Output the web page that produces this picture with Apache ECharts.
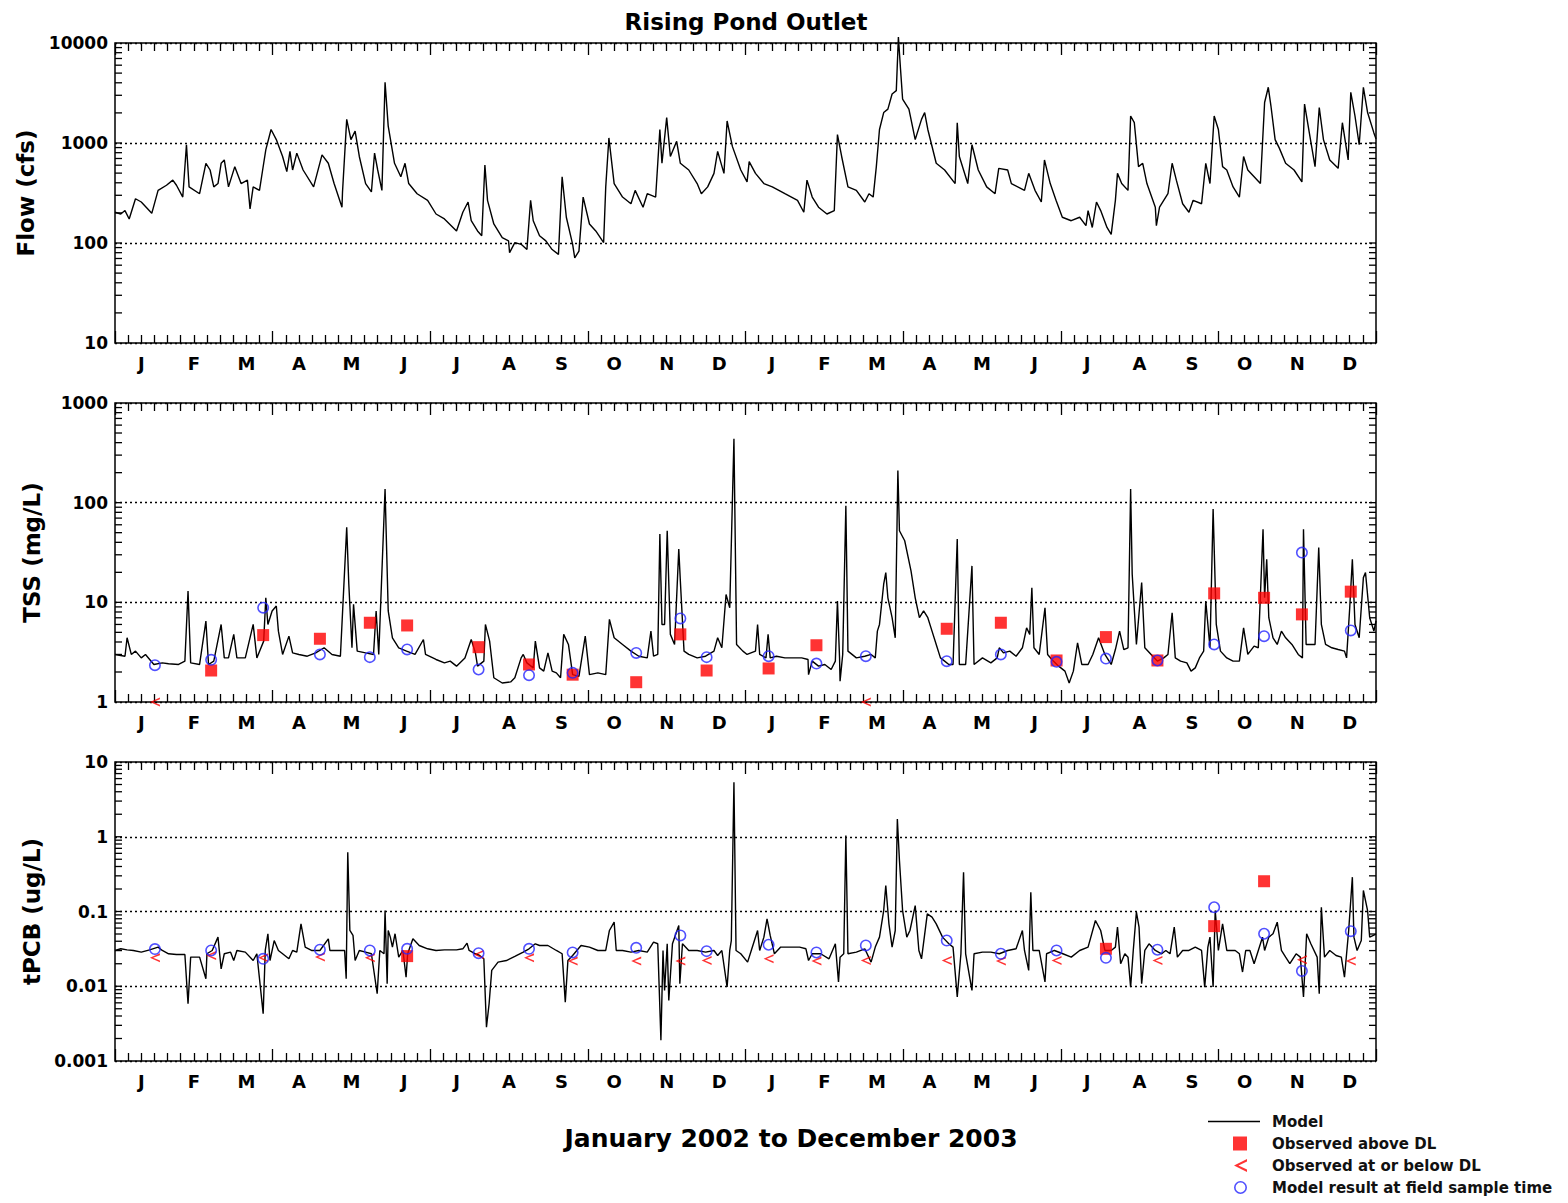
<!DOCTYPE html>
<html><head><meta charset="utf-8">
<script src="https://cdn.jsdelivr.net/npm/echarts@6/dist/echarts.min.js"></script>
<style>html,body{margin:0;padding:0;background:#fff}#c{width:1568px;height:1203px}</style>
</head><body><div id="c"></div>
<script>
// time in months since 1 Jan 2002
const monthLetters = ['J','F','M','A','M','J','J','A','S','O','N','D'];

const flowModel = [[0,203],[0.11,195],[0.19,211],[0.27,174],[0.39,277],[0.5,257],[0.7,198],[0.82,336],[0.98,378],[1.1,425],[1.17,378],[1.29,288],[1.36,961],[1.41,364],[1.61,311],[1.73,627],[1.81,537],[1.88,364],[1.96,393],[2.02,627],[2.08,677],[2.16,364],[2.28,580],[2.4,393],[2.52,425],[2.57,219],[2.63,364],[2.75,336],[2.81,537],[2.87,855],[2.97,1365],[3.07,1081],[3.19,733],[3.27,517],[3.33,824],[3.38,537],[3.46,792],[3.58,537],[3.78,364],[3.94,762],[4.06,627],[4.17,393],[4.32,228],[4.33,324],[4.41,1722],[4.49,1081],[4.57,1313],[4.65,733],[4.77,393],[4.88,324],[4.94,792],[5.0,537],[5.08,336],[5.14,4050],[5.2,1475],[5.32,627],[5.44,459],[5.52,627],[5.59,393],[5.75,311],[5.95,267],[6.11,195],[6.27,174],[6.5,132],[6.62,203],[6.72,257],[6.78,167],[6.9,132],[6.98,118],[7.04,603],[7.09,267],[7.21,155],[7.37,113],[7.49,105],[7.51,80],[7.61,101],[7.73,97],[7.84,86],[7.91,267],[7.96,167],[8.08,118],[8.2,105],[8.32,86],[8.44,77],[8.51,459],[8.59,181],[8.71,97],[8.75,71],[8.83,83],[8.91,288],[9.03,155],[9.15,132],[9.3,101],[9.34,364],[9.4,1124],[9.5,393],[9.66,288],[9.82,247],[9.9,336],[10.05,228],[10.13,311],[10.29,288],[10.37,1365],[10.41,627],[10.5,1791],[10.57,733],[10.69,1040],[10.76,627],[10.92,537],[11.08,393],[11.16,311],[11.28,364],[11.4,497],[11.47,824],[11.59,497],[11.65,1660],[11.75,925],[11.91,537],[12.03,408],[12.07,652],[12.19,497],[12.35,393],[12.51,364],[12.75,311],[12.99,267],[13.11,203],[13.17,425],[13.27,288],[13.39,228],[13.55,195],[13.69,211],[13.75,1213],[13.83,733],[13.95,364],[14.11,336],[14.27,257],[14.35,311],[14.43,288],[14.49,580],[14.55,1365],[14.63,2015],[14.71,2180],[14.79,3090],[14.87,3340],[14.91,11500],[14.95,5530],[14.99,2750],[15.11,2180],[15.23,1081],[15.35,1722],[15.41,2015],[15.47,1365],[15.63,627],[15.79,537],[15.99,393],[16.03,1596],[16.07,733],[16.23,393],[16.31,961],[16.43,537],[16.59,364],[16.75,311],[16.82,558],[16.99,537],[17.06,393],[17.31,336],[17.39,497],[17.51,336],[17.63,257],[17.69,677],[17.8,393],[17.91,267],[18.03,181],[18.2,167],[18.36,181],[18.48,149],[18.52,211],[18.6,143],[18.68,257],[18.76,211],[18.88,143],[18.96,122],[19.04,267],[19.08,497],[19.16,393],[19.28,336],[19.33,1862],[19.4,1596],[19.48,580],[19.56,627],[19.64,393],[19.8,228],[19.82,149],[19.88,228],[20.04,311],[20.12,627],[20.2,425],[20.32,247],[20.44,203],[20.52,267],[20.68,247],[20.76,627],[20.84,393],[20.92,1862],[21.0,1365],[21.08,580],[21.16,537],[21.28,364],[21.4,288],[21.48,733],[21.56,537],[21.8,393],[21.88,2540],[21.95,3607],[22.0,2356],[22.08,1081],[22.16,889],[22.28,627],[22.44,537],[22.59,408],[22.64,2447],[22.72,1365],[22.84,580],[22.92,2265],[23.0,1081],[23.12,677],[23.28,558],[23.36,1596],[23.47,677],[23.52,3213],[23.6,1862],[23.68,961],[23.76,3607],[23.84,2015],[23.96,1262],[24,1100]];

const tssModel = [[0,3.0],[0.19,2.88],[0.23,4.41],[0.31,3.0],[0.39,3.24],[0.5,2.77],[0.58,3.0],[0.74,2.38],[0.9,2.47],[1.02,2.42],[1.21,2.38],[1.33,2.57],[1.39,13.0],[1.44,2.47],[1.61,2.38],[1.73,6.49],[1.78,2.38],[1.88,2.57],[2.02,6.0],[2.08,2.77],[2.16,2.77],[2.26,4.77],[2.32,2.77],[2.48,2.77],[2.63,6.0],[2.7,2.77],[2.83,4.08],[2.87,11.1],[2.91,6.0],[2.99,8.19],[3.07,9.19],[3.11,5.14],[3.19,3.0],[3.31,4.58],[3.38,3.11],[3.5,3.0],[3.66,2.88],[3.82,3.11],[3.98,3.5],[4.13,3.0],[4.29,2.88],[4.41,56.5],[4.45,15.2],[4.51,3.5],[4.54,9.55],[4.61,3.24],[4.77,3.11],[4.92,3.0],[4.97,8.19],[5.02,3.0],[5.14,137],[5.2,8.19],[5.28,4.41],[5.4,3.5],[5.55,3.24],[5.71,3.0],[5.87,4.24],[5.91,3.0],[6.11,2.67],[6.27,2.47],[6.38,2.57],[6.5,2.29],[6.66,2.77],[6.78,4.24],[6.86,3.11],[6.9,2.29],[7.02,2.57],[7.05,6.0],[7.13,4.08],[7.21,1.75],[7.37,1.55],[7.53,1.59],[7.61,1.75],[7.73,2.77],[7.77,3.0],[7.84,2.47],[7.96,2.2],[8.0,4.08],[8.08,2.2],[8.16,2.04],[8.24,3.11],[8.32,2.04],[8.4,1.96],[8.48,1.75],[8.54,4.77],[8.63,3.78],[8.71,1.88],[8.83,1.81],[8.95,4.58],[9.03,1.88],[9.19,1.96],[9.34,1.88],[9.41,6.74],[9.5,4.41],[9.66,3.78],[9.82,3.24],[9.97,2.88],[10.13,2.77],[10.2,5.14],[10.25,2.88],[10.33,3.0],[10.37,48.4],[10.41,6.0],[10.46,6.0],[10.51,52.3],[10.57,4.77],[10.65,3.78],[10.73,34.2],[10.76,16.4],[10.83,3.24],[10.92,3.0],[11.08,2.77],[11.24,2.88],[11.4,3.24],[11.47,4.41],[11.55,3.5],[11.63,12.0],[11.7,8.83],[11.78,437],[11.83,3.78],[11.95,3.24],[12.03,3.0],[12.19,3.24],[12.23,6.0],[12.27,3.0],[12.39,2.77],[12.43,4.77],[12.47,2.77],[12.59,2.88],[12.75,2.77],[12.91,2.77],[13.07,2.77],[13.19,2.67],[13.2,1.88],[13.27,2.57],[13.39,2.29],[13.51,2.38],[13.63,2.12],[13.71,2.57],[13.75,10.3],[13.79,2.77],[13.8,1.62],[13.85,3.0],[13.91,93],[13.95,3.24],[14.11,2.77],[14.27,2.88],[14.39,3.0],[14.47,2.77],[14.51,5.14],[14.55,6.0],[14.63,15.2],[14.67,19.9],[14.71,11.1],[14.79,7.01],[14.85,4.41],[14.9,210],[14.93,52.3],[15.03,41.5],[15.15,20.7],[15.23,11.1],[15.31,7.01],[15.39,8.19],[15.47,7.01],[15.55,5.14],[15.63,3.78],[15.71,2.77],[15.79,2.57],[15.87,2.38],[15.95,2.38],[16.03,43.1],[16.07,2.38],[16.19,2.38],[16.31,23.2],[16.35,2.38],[16.51,2.77],[16.67,2.47],[16.79,2.77],[16.83,3.5],[16.91,3.11],[17.03,3.24],[17.15,2.88],[17.27,3.5],[17.35,5.55],[17.41,4.77],[17.45,14.0],[17.49,3.5],[17.59,3.0],[17.7,8.83],[17.75,3.0],[17.83,2.67],[17.96,2.29],[18.08,2.04],[18.16,1.55],[18.24,2.04],[18.32,3.93],[18.4,2.38],[18.52,2.38],[18.61,3.0],[18.72,4.41],[18.84,3.0],[18.96,2.38],[19.04,3.36],[19.12,5.14],[19.2,3.36],[19.28,3.5],[19.33,137],[19.36,19.1],[19.44,3.78],[19.54,15.8],[19.6,3.5],[19.72,3.0],[19.84,2.57],[19.96,2.77],[20.04,3.0],[20.12,7.87],[20.18,2.77],[20.28,2.57],[20.4,2.47],[20.48,2.04],[20.56,2.2],[20.64,2.77],[20.72,3.24],[20.76,10.3],[20.84,3.5],[20.9,86.5],[20.96,6.0],[21.04,3.24],[21.16,2.77],[21.28,2.57],[21.4,2.57],[21.48,5.55],[21.56,3.0],[21.68,3.63],[21.76,3.5],[21.85,54.2],[21.88,11.1],[21.92,27.1],[21.96,7.01],[22.04,4.41],[22.12,3.78],[22.2,5.14],[22.28,4.41],[22.4,3.78],[22.52,3.0],[22.6,2.77],[22.62,54.2],[22.67,3.78],[22.76,3.78],[22.84,3.78],[22.91,35.5],[22.96,6.0],[23.04,3.78],[23.16,3.5],[23.28,3.36],[23.4,3.24],[23.44,2.77],[23.5,8.83],[23.55,27.1],[23.6,6.0],[23.68,4.41],[23.76,17.7],[23.8,19.9],[23.88,7.01],[23.96,5.14],[24,6.5]];

const tssObsAbove = [[1.83,2.07],[2.82,4.69],[3.9,4.31],[4.85,6.24],[5.56,5.86],[6.92,3.55],[7.88,2.38],[8.71,1.88],[9.92,1.58],[10.76,4.77],[11.26,2.07],[12.44,2.17],[13.35,3.71],[15.83,5.43],[16.86,6.24],[17.92,2.61],[18.86,4.48],[19.84,2.61],[20.92,12.3],[21.87,11.1],[22.59,7.57],[23.52,12.8]];
const tssObsBelow = [[0.76,1.0],[14.29,1.0]];
const tssModelAtSample = [[0.76,2.34],[1.83,2.65],[2.82,8.83],[3.9,3.0],[4.85,2.82],[5.56,3.37],[6.92,2.12],[7.88,1.86],[8.71,1.96],[9.92,3.11],[10.76,6.9],[11.26,2.82],[12.44,2.88],[13.35,2.43],[14.29,2.88],[15.83,2.57],[16.86,3.0],[17.92,2.53],[18.86,2.73],[19.84,2.61],[20.92,3.78],[21.87,4.58],[22.59,31.6],[23.52,5.22]];

const pcbModel = [[0,0.0301],[0.11,0.0317],[0.23,0.0307],[0.35,0.0301],[0.5,0.0286],[0.66,0.0307],[0.82,0.0334],[0.9,0.0301],[1.02,0.0272],[1.17,0.0266],[1.33,0.0266],[1.39,0.00583],[1.44,0.0245],[1.61,0.0245],[1.73,0.0126],[1.75,0.0272],[1.85,0.0301],[1.96,0.0454],[2.02,0.0171],[2.08,0.0272],[2.2,0.0286],[2.26,0.0221],[2.32,0.0301],[2.48,0.0286],[2.63,0.0221],[2.7,0.0272],[2.82,0.0043],[2.86,0.0301],[2.91,0.0504],[2.95,0.0221],[3.03,0.0409],[3.11,0.0301],[3.19,0.0272],[3.31,0.0233],[3.38,0.0301],[3.46,0.0286],[3.54,0.0684],[3.62,0.0334],[3.74,0.0301],[3.9,0.0301],[4.06,0.0431],[4.09,0.0301],[4.25,0.0301],[4.37,0.0301],[4.4,0.0126],[4.43,0.621],[4.47,0.0557],[4.53,0.0478],[4.57,0.0221],[4.65,0.0301],[4.77,0.0286],[4.88,0.0272],[4.99,0.00794],[5.04,0.0301],[5.12,0.0272],[5.14,0.103],[5.18,0.0108],[5.2,0.0557],[5.24,0.0454],[5.28,0.0334],[5.33,0.0504],[5.4,0.0245],[5.48,0.0301],[5.54,0.0132],[5.57,0.0272],[5.67,0.0431],[5.79,0.0351],[5.95,0.0317],[6.11,0.0301],[6.27,0.0307],[6.5,0.0307],[6.62,0.0317],[6.7,0.0378],[6.74,0.0301],[6.86,0.0272],[6.94,0.0258],[7.02,0.0233],[7.07,0.00284],[7.12,0.00583],[7.17,0.0163],[7.29,0.021],[7.45,0.0221],[7.61,0.0251],[7.77,0.0286],[7.88,0.0317],[8.0,0.037],[8.08,0.0351],[8.24,0.0351],[8.4,0.0301],[8.51,0.0272],[8.57,0.00613],[8.62,0.0221],[8.71,0.0258],[8.87,0.0351],[9.03,0.0334],[9.19,0.0301],[9.34,0.0301],[9.41,0.0557],[9.5,0.072],[9.54,0.0301],[9.66,0.0301],[9.82,0.0286],[9.97,0.0301],[10.13,0.0286],[10.25,0.0389],[10.33,0.037],[10.39,0.00189],[10.43,0.0301],[10.46,0.00879],[10.51,0.037],[10.54,0.00647],[10.61,0.037],[10.73,0.065],[10.75,0.0108],[10.8,0.037],[10.92,0.0301],[11.08,0.0301],[11.24,0.0286],[11.4,0.0301],[11.47,0.0258],[11.55,0.0301],[11.65,0.00975],[11.7,0.0301],[11.73,0.0409],[11.78,5.35],[11.82,0.0301],[11.91,0.0272],[12.04,0.021],[12.11,0.0301],[12.23,0.0557],[12.27,0.0301],[12.35,0.0454],[12.41,0.0798],[12.47,0.0478],[12.55,0.0272],[12.67,0.0334],[12.83,0.0334],[13.03,0.0334],[13.15,0.0317],[13.2,0.0221],[13.27,0.0272],[13.43,0.0272],[13.59,0.0233],[13.71,0.037],[13.77,0.0114],[13.8,0.0245],[13.87,0.0272],[13.91,1.04],[13.95,0.0272],[14.11,0.0286],[14.27,0.0317],[14.39,0.021],[14.47,0.0334],[14.55,0.0454],[14.63,0.103],[14.67,0.223],[14.73,0.0684],[14.79,0.0334],[14.85,0.0557],[14.89,1.73],[14.93,0.48],[14.99,0.103],[15.07,0.0454],[15.13,0.0557],[15.23,0.12],[15.3,0.0301],[15.35,0.0233],[15.46,0.093],[15.55,0.084],[15.63,0.0684],[15.75,0.0454],[15.87,0.037],[15.95,0.0334],[16.03,0.0072],[16.1,0.0272],[16.15,0.335],[16.19,0.0272],[16.31,0.00879],[16.35,0.0272],[16.51,0.0286],[16.67,0.0286],[16.83,0.0272],[16.99,0.0301],[17.15,0.0317],[17.27,0.0557],[17.31,0.0301],[17.39,0.0163],[17.43,0.181],[17.47,0.0301],[17.59,0.0301],[17.7,0.0114],[17.73,0.0272],[17.88,0.0301],[18.04,0.0272],[18.2,0.0245],[18.36,0.0301],[18.52,0.0334],[18.66,0.0758],[18.76,0.0557],[18.84,0.0301],[18.96,0.0301],[19.04,0.0334],[19.08,0.0618],[19.14,0.02],[19.22,0.0272],[19.28,0.0245],[19.33,0.00975],[19.38,0.0301],[19.44,0.098],[19.49,0.0618],[19.54,0.0108],[19.6,0.0301],[19.68,0.037],[19.8,0.0301],[19.92,0.0272],[20.0,0.0301],[20.08,0.0272],[20.16,0.0618],[20.22,0.0245],[20.32,0.0301],[20.44,0.0301],[20.56,0.0334],[20.68,0.0301],[20.74,0.00975],[20.8,0.0334],[20.84,0.0454],[20.9,0.00975],[20.94,0.103],[21.0,0.0301],[21.08,0.0684],[21.16,0.0301],[21.32,0.0301],[21.4,0.0272],[21.46,0.0155],[21.52,0.0301],[21.6,0.0301],[21.68,0.02],[21.76,0.0301],[21.84,0.0454],[21.88,0.0301],[21.96,0.0454],[22.04,0.0504],[22.12,0.072],[22.2,0.0301],[22.28,0.0245],[22.36,0.02],[22.48,0.0272],[22.56,0.0245],[22.62,0.0072],[22.68,0.0504],[22.76,0.037],[22.88,0.0245],[22.92,0.00794],[22.96,0.114],[23.02,0.0245],[23.12,0.0301],[23.24,0.0258],[23.34,0.0245],[23.4,0.0132],[23.48,0.0557],[23.55,0.288],[23.58,0.0454],[23.64,0.0301],[23.72,0.0409],[23.76,0.191],[23.84,0.103],[23.88,0.0454],[24,0.05]];

const pcbObsAbove = [[5.56,0.0253],[18.86,0.0317],[20.92,0.0637],[21.87,0.254]];
const pcbObsBelow = [[0.76,0.024],[1.83,0.0257],[2.82,0.024],[3.9,0.0246],[4.85,0.024],[6.92,0.0266],[7.88,0.024],[8.71,0.0217],[9.92,0.0217],[10.76,0.0217],[11.26,0.0221],[12.44,0.0233],[13.35,0.0217],[14.29,0.0221],[15.83,0.0221],[16.86,0.0217],[17.92,0.0221],[19.84,0.0221],[22.59,0.0226],[23.52,0.0217]];
const pcbModelAtSample = [[0.76,0.0314],[1.83,0.0301],[2.82,0.0233],[3.9,0.0308],[4.85,0.0301],[5.56,0.0317],[6.92,0.0277],[7.88,0.0317],[8.71,0.0283],[9.92,0.0327],[10.76,0.0478],[11.26,0.0295],[12.44,0.0359],[13.35,0.0283],[14.29,0.0352],[15.83,0.0409],[16.86,0.0272],[17.92,0.0301],[18.86,0.024],[19.84,0.0308],[20.92,0.114],[21.87,0.0504],[22.59,0.016],[23.52,0.0546]];

const FONT = '"DejaVu Sans", Verdana, sans-serif';
const RED = '#ff0000', BLUE = '#2424ff';
const SYM_LT = 'path://M10,0 L0,5 L10,10 L10,8 L3.2,5 L10,2 Z';
const SYM_RING = 'path://M12,6 A6,6 0 1 0 0,6 A6,6 0 1 0 12,6 Z M10.4,6 A4.4,4.4 0 1 1 1.6,6 A4.4,4.4 0 1 1 10.4,6 Z';
const ICON_LINE = 'path://M0,0 L0,0 Z M0,6.2 L52,6.2 L52,7.8 L0,7.8 Z M52,14 L52,14 Z';
const ICON_SQ = 'path://M0,0 L0,0 Z M25,0 L39,0 L39,14 L25,14 Z M52,14 L52,14 Z';
const ICON_LT = 'path://M0,0 L0,0 Z M39,0.5 L26,7 L39,13.5 L39,11 L30.5,7 L39,3 Z M52,14 L52,14 Z';
const ICON_RING = 'path://M0,0 L0,0 Z M39,7 A6.5,6.5 0 1 0 26,7 A6.5,6.5 0 1 0 39,7 Z M37.4,7 A4.9,4.9 0 1 1 27.6,7 A4.9,4.9 0 1 1 37.4,7 Z M52,14 L52,14 Z';

const panels = [
  {model: flowModel, above: null, below: null, sample: null, yMin: 10, yMax: 10000, name: 'Flow (cfs)', top: 43, height: 300},
  {model: tssModel, above: tssObsAbove, below: tssObsBelow, sample: tssModelAtSample, yMin: 1, yMax: 1000, name: 'TSS (mg/L)', top: 403, height: 299},
  {model: pcbModel, above: pcbObsAbove, below: pcbObsBelow, sample: pcbModelAtSample, yMin: 0.001, yMax: 10, name: 'tPCB (ug/L)', top: 762, height: 299}
];

function logTicks(min, max) {
  const out = [];
  for (let e = Math.round(Math.log10(min)); e < Math.round(Math.log10(max)); e++) {
    for (let k = 1; k <= 9; k++) {
      const v = k * Math.pow(10, e);
      if (v > min) out.push([0, v]);
    }
  }
  return out;
}
function yFmt(v) {
  return v >= 1 ? String(Math.round(v)) : String(parseFloat(v.toPrecision(1)));
}
function monthFmt(v) {
  const k = Math.round(v * 2);
  return (k % 2 === 1) ? monthLetters[((k - 1) / 2) % 12] : '';
}

const grid = [], xAxis = [], yAxis = [], series = [];
const tickStyle = {color: '#000', width: 1.3};
panels.forEach((p, g) => {
  grid.push({left: 115, right: 192, top: p.top, height: p.height, show: true, borderColor: '#000', borderWidth: 1.5, backgroundColor: 'transparent', containLabel: false});
  ['bottom', 'top'].forEach(pos => xAxis.push({
    gridIndex: g, type: 'value', min: 0, max: 24, interval: 3, position: pos,
    axisLine: {show: false}, splitLine: {show: false}, axisLabel: {show: false},
    axisTick: {show: true, inside: true, length: 12, lineStyle: tickStyle},
    minorTick: {show: true, splitNumber: 12, length: 8, lineStyle: tickStyle}
  }));
  xAxis.push({
    gridIndex: g, type: 'value', min: 0, max: 24, interval: 0.5, position: 'bottom',
    axisLine: {show: false}, axisTick: {show: false}, splitLine: {show: false}, minorTick: {show: false},
    axisLabel: {margin: 11, fontFamily: FONT, fontWeight: 'bold', fontSize: 18, color: '#000', formatter: monthFmt}
  });
  yAxis.push({
    gridIndex: g, type: 'log', logBase: 10, min: p.yMin, max: p.yMax, position: 'left',
    axisLine: {show: false}, axisTick: {show: false},
    splitLine: {show: true, lineStyle: {color: '#000', type: [2, 3], width: 1.4}},
    axisLabel: {margin: 7, fontFamily: FONT, fontWeight: 'bold', fontSize: 17, color: '#000', formatter: yFmt},
    name: p.name, nameLocation: 'middle', nameGap: 72, nameRotate: 90,
    nameTextStyle: {fontFamily: FONT, fontWeight: 'bold', fontSize: 23, color: '#000'}
  });
  const xi = g * 3;
  series.push({
    type: 'custom', xAxisIndex: xi, yAxisIndex: g, silent: true, clip: false, z: 1,
    data: logTicks(p.yMin, p.yMax), encode: {x: 0, y: 1},
    renderItem: (params, api) => {
      const cs = params.coordSys;
      const y = api.coord([0, api.value(1)])[1];
      const st = {stroke: '#000', lineWidth: 1.3};
      return {type: 'group', children: [
        {type: 'line', shape: {x1: cs.x, y1: y, x2: cs.x + 7, y2: y}, style: st},
        {type: 'line', shape: {x1: cs.x + cs.width - 7, y1: y, x2: cs.x + cs.width, y2: y}, style: st}
      ]};
    }
  });
  series.push({
    type: 'line', name: 'Model', xAxisIndex: xi, yAxisIndex: g, data: p.model,
    symbol: 'none', showSymbol: false, clip: g !== 0, z: 2,
    lineStyle: {color: '#000', width: 1.4}, itemStyle: {color: '#000'}
  });
  if (p.above) series.push({
    type: 'scatter', name: 'Observed above DL', xAxisIndex: xi, yAxisIndex: g, data: p.above,
    symbol: 'rect', symbolSize: 12, z: 3, itemStyle: {color: RED}
  });
  if (p.below) series.push({
    type: 'scatter', name: 'Observed at or below DL', xAxisIndex: xi, yAxisIndex: g, data: p.below,
    symbol: SYM_LT, symbolSize: [10, 9], z: 3, itemStyle: {color: RED}
  });
  if (p.sample) series.push({
    type: 'scatter', name: 'Model result at field sample time', xAxisIndex: xi, yAxisIndex: g, data: p.sample,
    symbol: SYM_RING, symbolSize: 12, z: 4, itemStyle: {color: BLUE}
  });
});

const chart = echarts.init(document.getElementById('c'), null, {renderer: 'svg'});
chart.setOption({
  animation: false,
  backgroundColor: '#fff',
  title: [
    {text: 'Rising Pond Outlet', left: 746, top: 10, textAlign: 'center', padding: 0,
     textStyle: {fontFamily: FONT, fontWeight: 'bold', fontSize: 23, color: '#000'}},
    {text: 'January 2002 to December 2003', left: 791, top: 1126, textAlign: 'center', padding: 0,
     textStyle: {fontFamily: FONT, fontWeight: 'bold', fontSize: 25, color: '#000'}}
  ],
  legend: {
    orient: 'vertical', left: 1208, top: 1114, padding: 0, itemWidth: 52, itemHeight: 14, itemGap: 7,
    selectedMode: false,
    textStyle: {fontFamily: FONT, fontWeight: 'bold', fontSize: 15, color: '#111', padding: [0, 0, 0, 7]},
    data: [
      {name: 'Model', icon: ICON_LINE, itemStyle: {color: '#000'}},
      {name: 'Observed above DL', icon: ICON_SQ},
      {name: 'Observed at or below DL', icon: ICON_LT},
      {name: 'Model result at field sample time', icon: ICON_RING}
    ]
  },
  grid, xAxis, yAxis, series
});
</script></body></html>
